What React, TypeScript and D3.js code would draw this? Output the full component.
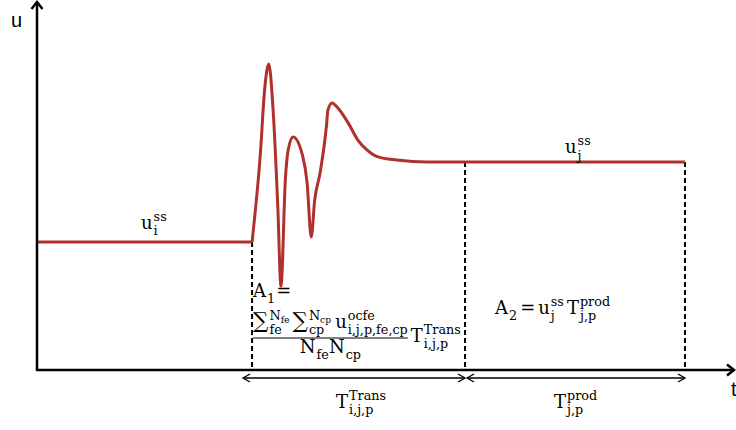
import React, { useRef, useEffect } from "react";
import * as d3 from "d3";

// time in arbitrary units, u normalised
const stepT = 30.9;
const steadyT = 61.5;
const endT = 93.1;
const uInit = 0.366;
const uFinal = 0.594;

const transT = [30.9, 32.1, 32.7, 33.3, 33.9, 34.6, 35.05, 35.7, 36.1, 36.8, 38.2, 38.8, 39.4, 39.9, 40.7, 41.6, 41.8, 42.4, 43.2, 44.7, 46.1, 47.4, 49.0, 51.7, 56.0, 61.5];
const transU = [0.366, 0.62, 0.8, 0.874, 0.75, 0.466, 0.24, 0.55, 0.63, 0.666, 0.609, 0.537, 0.38, 0.486, 0.566, 0.7, 0.743, 0.763, 0.749, 0.706, 0.657, 0.629, 0.609, 0.6, 0.594, 0.594];

const W = 736;
const H = 430;
const MATH_FONT = "'DejaVu Serif', 'Liberation Serif', serif";
const SIZE = 18;

type Tok = { b: string; sub?: string; sup?: string; supSub?: string; gap?: number; bs?: number };

// lay out a run of base/sub/sup tokens, returns total width
const mathLabel = (g: any, x: number, y: number, tokens: Tok[], size = SIZE) => {
  let cx = x;
  const small = size * 0.71;
  tokens.forEach((tk) => {
    if (tk.gap) cx += tk.gap;
    const bsz = size * (tk.bs || 1);
    const b = g.append("text").attr("x", cx).attr("y", y).attr("font-size", bsz).text(tk.b);
    cx += b.node().getComputedTextLength();
    let sw = 0;
    if (tk.sup) {
      const s = g.append("text").attr("x", cx + 1).attr("y", y - size * 0.44).attr("font-size", small).text(tk.sup);
      let w = s.node().getComputedTextLength() + 1;
      if (tk.supSub) {
        const ss = g.append("text").attr("x", cx + w).attr("y", y - size * 0.3).attr("font-size", small * 0.72).text(tk.supSub);
        w += ss.node().getComputedTextLength();
      }
      sw = Math.max(sw, w);
    }
    if (tk.sub) {
      const s = g.append("text").attr("x", cx + 1).attr("y", y + size * 0.36).attr("font-size", small).text(tk.sub);
      sw = Math.max(sw, s.node().getComputedTextLength() + 1);
    }
    cx += sw;
  });
  return cx - x;
};

const chevron = (g: any, x: number, y: number, dir: string, len: number, half: number, sw: number) => {
  let d = "";
  if (dir === "right") d = `M${x - len},${y - half}L${x},${y}L${x - len},${y + half}`;
  if (dir === "left") d = `M${x + len},${y - half}L${x},${y}L${x + len},${y + half}`;
  if (dir === "up") d = `M${x - half},${y + len}L${x},${y}L${x + half},${y + len}`;
  g.append("path").attr("d", d).attr("fill", "none").attr("stroke", "#000").attr("stroke-width", sw);
};

const App = () => {
  const ref = useRef<SVGSVGElement>(null);

  useEffect(() => {
    const svg = d3.select(ref.current);
    svg.selectAll("*").remove();

    const xScale = d3.scaleLinear().domain([0, 100]).range([37, 733]);
    const yScale = d3.scaleLinear().domain([0, 1]).range([370, 20]);
    const x0 = xScale(0);
    const y0 = yScale(0);

    // dashed guide lines
    const guides = [
      { t: stepT, u: uInit },
      { t: steadyT, u: uFinal },
      { t: endT, u: uFinal },
    ];
    svg
      .selectAll("line.guide")
      .data(guides)
      .join("line")
      .attr("class", "guide")
      .attr("x1", (d) => xScale(d.t))
      .attr("x2", (d) => xScale(d.t))
      .attr("y1", (d) => yScale(d.u))
      .attr("y2", y0)
      .attr("stroke", "#000")
      .attr("stroke-width", 2)
      .attr("stroke-dasharray", "5,3");

    // the response curve
    const straight = d3.line<number[]>().x((d) => xScale(d[0])).y((d) => yScale(d[1]));
    const smooth = d3
      .line<number[]>()
      .x((d) => xScale(d[0]))
      .y((d) => yScale(d[1]))
      .curve(d3.curveMonotoneX);
    const curveStyle = (p: any) =>
      p.attr("fill", "none").attr("stroke", "#b0302c").attr("stroke-width", 3).attr("stroke-linejoin", "round");

    svg.append("path").attr("d", straight([[0, uInit], [stepT, uInit]])).call(curveStyle);
    svg.append("path").attr("d", smooth(transT.map((t, i) => [t, transU[i]]))).call(curveStyle);
    svg.append("path").attr("d", straight([[steadyT, uFinal], [endT, uFinal]])).call(curveStyle);

    // axes
    const ax = svg.append("g");
    ax.append("line").attr("x1", x0).attr("x2", x0).attr("y1", y0 + 1).attr("y2", 2).attr("stroke", "#000").attr("stroke-width", 2.5);
    ax.append("line").attr("x1", x0 - 1).attr("x2", 734).attr("y1", y0).attr("y2", y0).attr("stroke", "#000").attr("stroke-width", 2.5);
    chevron(ax, x0, 2, "up", 7, 5.5, 2.5);
    chevron(ax, 734, y0, "right", 7, 5.5, 2.5);
    ax.append("text").attr("x", 11).attr("y", 27).attr("font-family", "'Liberation Sans', sans-serif").attr("font-size", 20).text("u");
    ax.append("text").attr("x", 731).attr("y", 396).attr("font-family", "'Liberation Sans', sans-serif").attr("font-size", 20).text("t");

    // dimension arrows
    const dim = svg.append("g");
    const ay = y0 + 8;
    const spans = [
      [xScale(stepT) - 9, xScale(steadyT)],
      [xScale(steadyT) + 2, xScale(endT)],
    ];
    spans.forEach(([a, b]) => {
      dim.append("line").attr("x1", a).attr("x2", b).attr("y1", ay).attr("y2", ay).attr("stroke", "#000").attr("stroke-width", 1.3);
      chevron(dim, a, ay, "left", 7, 4, 1.3);
      chevron(dim, b, ay, "right", 7, 4, 1.3);
    });

    // math annotations
    const m = svg.append("g").attr("font-family", MATH_FONT).attr("fill", "#000");
    mathLabel(m, 141, yScale(uInit) - 13, [{ b: "u", sub: "i", sup: "ss" }]);
    mathLabel(m, 565, yScale(uFinal) - 9, [{ b: "u", sub: "j", sup: "ss" }]);

    // A1 expression
    const a1x = xScale(stepT) + 1;
    mathLabel(m, a1x, 297, [{ b: "A", sub: "1" }, { b: "=", gap: 1 }]);
    const numW = mathLabel(m, a1x, 328, [
      { b: "∑", sub: "fe", sup: "N", supSub: "fe", bs: 1.2 },
      { b: "∑", sub: "cp", sup: "N", supSub: "cp", bs: 1.2, gap: 3 },
      { b: "u", sub: "i,j,p,fe,cp", sup: "ocfe", gap: 4 },
    ]);
    m.append("line").attr("x1", a1x).attr("x2", a1x + numW).attr("y1", 338).attr("y2", 338).attr("stroke", "#000").attr("stroke-width", 1);
    const den = m.append("g");
    const denW = mathLabel(den, 0, 353, [{ b: "N", sub: "fe" }, { b: "N", sub: "cp" }]);
    den.attr("transform", `translate(${a1x + numW / 2 - denW / 2},0)`);
    mathLabel(m, a1x + numW + 3, 342, [{ b: "T", sub: "i,j,p", sup: "Trans" }]);

    // A2 expression
    mathLabel(m, 495, 314, [
      { b: "A", sub: "2" },
      { b: "=", gap: 3 },
      { b: "u", sub: "j", sup: "ss", gap: 3 },
      { b: "T", sub: "j,p", sup: "prod", gap: 3 },
    ]);

    // period labels under the arrows
    mathLabel(m, 336, 408, [{ b: "T", sub: "i,j,p", sup: "Trans" }]);
    mathLabel(m, 554, 408, [{ b: "T", sub: "j,p", sup: "prod" }]);
  }, []);

  return (
    <svg
      ref={ref}
      width={W}
      height={H}
      style={{ position: "absolute", left: 0, top: 0, background: "#fff" }}
    ></svg>
  );
};

export default App;
